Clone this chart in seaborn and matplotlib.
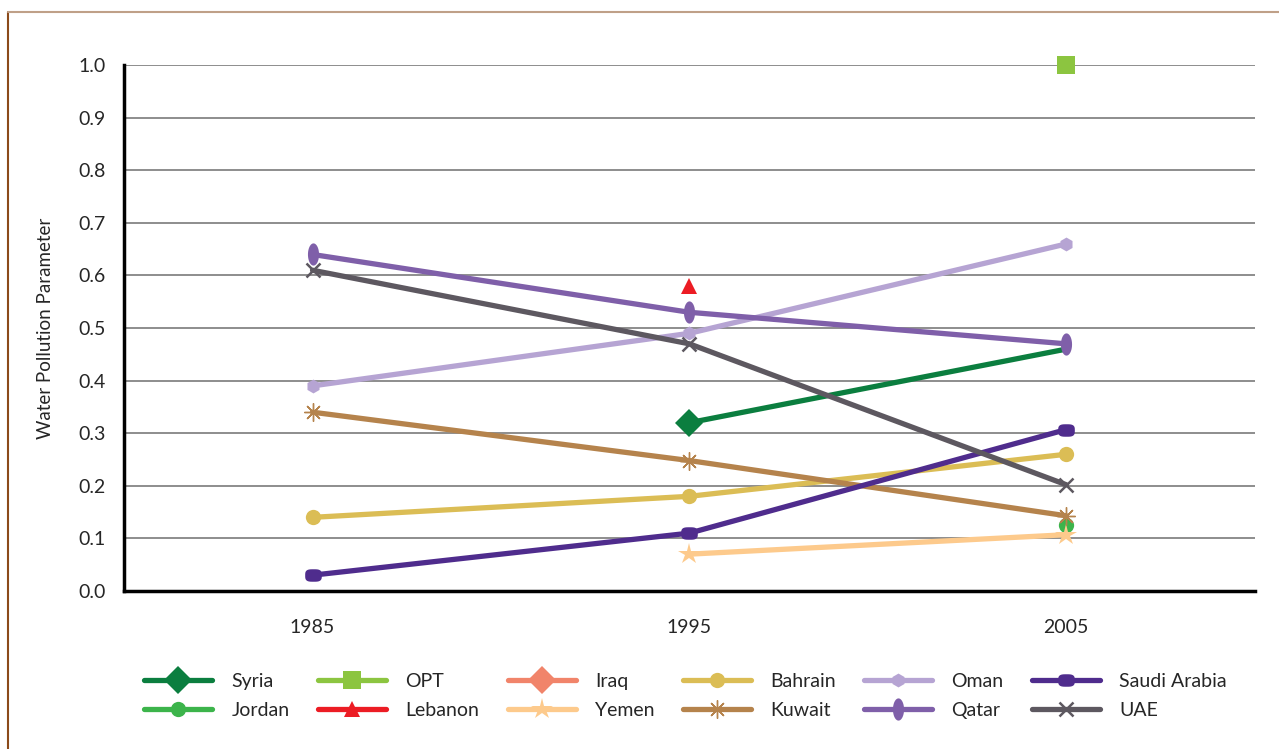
import numpy as np
import seaborn as sns
import matplotlib.pyplot as plt
from matplotlib.lines import Line2D
from matplotlib.path import Path

years = ['1985', '1995', '2005']
countries = ['Syria', 'Jordan', 'OPT', 'Lebanon', 'Iraq', 'Yemen',
             'Bahrain', 'Kuwait', 'Oman', 'Qatar', 'Saudi Arabia', 'UAE']

syria = [np.nan, 0.32, 0.46]
jordan = [np.nan, np.nan, 0.125]
opt = [np.nan, np.nan, 1.0]
lebanon = [np.nan, 0.58, np.nan]
iraq = [np.nan, np.nan, np.nan]
yemen = [np.nan, 0.07, 0.107]
bahrain = [0.14, 0.18, 0.26]
kuwait = [0.34, 0.248, 0.143]
oman = [0.39, 0.49, 0.66]
qatar = [0.64, 0.53, 0.47]
saudi = [0.03, 0.11, 0.307]
uae = [0.61, 0.47, 0.202]

values = [syria, jordan, opt, lebanon, iraq, yemen,
          bahrain, kuwait, oman, qatar, saudi, uae]

colors = ['#0b7e3f', '#3cb44b', '#8cc540', '#ec1c24', '#f1846a', '#fdca8c',
          '#dbbd55', '#b5834c', '#b6a4d3', '#7f5fa9', '#4f2c8d', '#5d5860']

# custom ellipse markers
t = np.linspace(0, 2 * np.pi, 40)
tall_ellipse = Path(np.column_stack([0.5 * np.cos(t), np.sin(t)]))
wide_blob = Path(np.column_stack([np.sign(np.cos(t)) * np.abs(np.cos(t)) ** 0.6,
                                  0.75 * np.sign(np.sin(t)) * np.abs(np.sin(t)) ** 0.6]))

markers = ['D', 'o', 's', '^', 'D', '*', 'o', (8, 2, 0), 'h', tall_ellipse, wide_blob, 'x']
msizes = [14, 11, 13, 11, 14, 16, 11, 13, 10, 16, 12, 10]
mews = [0, 0, 0, 0, 0, 0, 0, 1.0, 0, 0, 0, 1.8]

sns.set_style('white')
plt.rcParams['font.family'] = ['Lato', 'DejaVu Sans']

fig = plt.figure(figsize=(12.79, 7.49), dpi=100)
ax = fig.add_axes([0.097, 0.211, 0.884, 0.702])

x = np.arange(len(years))
for name, vals, c, m, ms, mew in zip(countries, values, colors, markers, msizes, mews):
    vals = np.array(vals, dtype=float)
    ok = ~np.isnan(vals)
    if not ok.any():
        continue
    # Syria's 2005 point is hidden behind Qatar in the original
    mevery = [0] if name == 'Syria' else None
    sns.lineplot(x=x[ok], y=vals[ok], ax=ax, color=c, linewidth=3.8,
                 marker=m, markersize=ms, markeredgewidth=mew, markevery=mevery,
                 markeredgecolor=c, markerfacecolor=c, clip_on=False, zorder=3)

ax.set_xlim(-0.5, 2.5)
ax.set_ylim(0, 1.0)
ax.set_yticks(np.arange(0, 1.01, 0.1))
ax.set_yticklabels([f'{v:.1f}' for v in np.arange(0, 1.01, 0.1)], fontsize=14)
ax.set_xticks(x)
ax.set_xticklabels(years, fontsize=14)
ax.set_xticks([0.5, 1.5, 2.5], minor=True)
ax.tick_params(axis='x', which='major', length=0, pad=20)
ax.tick_params(axis='x', which='minor', length=12, width=1.5, direction='in', color='black')
ax.tick_params(axis='y', length=0, pad=13)
for yv in np.arange(0.1, 1.01, 0.1):
    ax.axhline(yv, color='#7a7a7a', linewidth=1.2, zorder=1)

for s in ['top', 'right']:
    ax.spines[s].set_visible(False)
for s in ['left', 'bottom']:
    ax.spines[s].set_linewidth(2.5)
    ax.spines[s].set_color('black')

ax.set_xlabel('')
ax.set_ylabel('Water Pollution Parameter', fontsize=13.5, labelpad=18)

handles = [Line2D([0], [0], color=c, linewidth=3.8, marker=m, markersize=ms,
                  markeredgewidth=mew, markeredgecolor=c, markerfacecolor=c)
           for c, m, ms, mew in zip(colors, markers, msizes, mews)]
fig.legend(handles, countries, ncol=6, loc='center', bbox_to_anchor=(0.536, 0.071),
           frameon=False, fontsize=14, handlelength=3.5, handletextpad=1.0,
           columnspacing=1.45, labelspacing=0.6)

# thin frame around the figure
fig.add_artist(Line2D([0.0063, 0.0063], [0, 0.984], color='#8b4a1a', linewidth=1.5,
                      transform=fig.transFigure))
fig.add_artist(Line2D([0.0063, 1], [0.984, 0.984], color='#bfa088', linewidth=1.5,
                      transform=fig.transFigure))

fig.savefig('out.png', dpi=100)
